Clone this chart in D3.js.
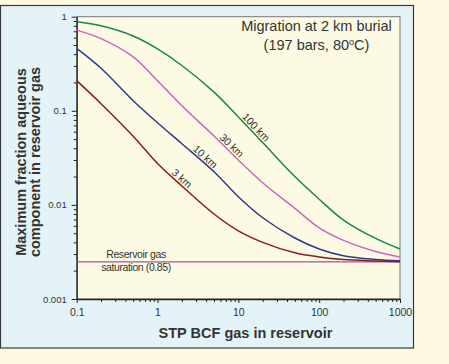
<!DOCTYPE html>
<html>
<head>
<meta charset="utf-8">
<script src="https://d3js.org/d3.v7.min.js"></script>
<style>
  body { margin: 0; background: #fdf9e3; }
  svg { display: block; font-family: "Liberation Sans", Arial, sans-serif; }
</style>
</head>
<body>
<div id="chart"></div>
<script>

var width = 449,
    height = 364;

// values
var gasBcf = [0.1, 0.2, 0.5, 1, 2, 5, 10, 20, 50, 100, 200, 500, 1000];
var km100 = [0.885, 0.80, 0.624, 0.455, 0.303, 0.158, 0.086, 0.046, 0.020, 0.0115, 0.0069, 0.0044, 0.0034];
var km30 = [0.72, 0.584, 0.374, 0.209, 0.113, 0.054, 0.030, 0.0172, 0.0092, 0.0057, 0.0042, 0.0032, 0.0028];
var km10 = [0.46, 0.283, 0.128, 0.0746, 0.0447, 0.0225, 0.0122, 0.0073, 0.00445, 0.0034, 0.00288, 0.00263, 0.00255];
var km3 = [0.209, 0.119, 0.0537, 0.0275, 0.0159, 0.0080, 0.0053, 0.0040, 0.0031, 0.0028, 0.00263, 0.00254, 0.00249];
var saturation = 0.00248;

var seriesNames = ["100 km", "30 km", "10 km", "3 km"];
var seriesColors = ["#128a4c", "#cf62c2", "#2d3a8e", "#8c1b1e"];
var labelAt = [14.7, 7.4, 3.5, 1.8];

var xTicks = [0.1, 1, 10, 100, 1000];
var yTicks = [0.001, 0.01, 0.1, 1];

var margin = {left: 76.7, right: 49, top: 16.7, bottom: 65};

var x = d3.scaleLog().domain([0.1, 1000]).range([margin.left, width - margin.right]);
var y = d3.scaleLog().domain([0.001, 1]).range([height - margin.bottom, margin.top]);

var svg = d3.select("#chart").append("svg")
  .attr("width", width)
  .attr("height", height);

// outer panel
svg.append("rect")
  .attr("x", 0.5).attr("y", 5.5)
  .attr("width", 413).attr("height", 342.5)
  .attr("fill", "#e4f3f7")
  .attr("stroke", "#3a3a3a")
  .attr("stroke-width", 1.2);

// plot area
svg.append("rect")
  .attr("x", x.range()[0]).attr("y", y.range()[1])
  .attr("width", x.range()[1] - x.range()[0])
  .attr("height", y.range()[0] - y.range()[1])
  .attr("fill", "#fdfae3")
  .attr("stroke", "#777")
  .attr("stroke-width", 1);

function minorTicks(lo, hi) {
  var out = [];
  for (var p = lo; p < hi; p++) {
    for (var k = 2; k <= 9; k++) out.push(k * Math.pow(10, p));
  }
  return out;
}

// minor ticks
svg.append("g")
  .attr("transform", "translate(0," + y.range()[0] + ")")
  .call(d3.axisBottom(x).tickValues(minorTicks(-1, 3)).tickSize(3).tickFormat(""))
  .call(function(g) { g.select(".domain").remove(); });
svg.append("g")
  .attr("transform", "translate(" + x.range()[0] + ",0)")
  .call(d3.axisLeft(y).tickValues(minorTicks(-3, 0)).tickSize(3).tickFormat(""))
  .call(function(g) { g.select(".domain").remove(); });

// major axes
var xAxis = svg.append("g")
  .attr("transform", "translate(0," + y.range()[0] + ")")
  .call(d3.axisBottom(x).tickValues(xTicks).tickSize(4).tickSizeOuter(0).tickPadding(6)
    .tickFormat(function(d) { return String(d); }));
xAxis.selectAll("text").attr("font-size", "10.5px").attr("fill", "#333").attr("font-family", null);

var yAxis = svg.append("g")
  .attr("transform", "translate(" + x.range()[0] + ",0)")
  .call(d3.axisLeft(y).tickValues(yTicks).tickSize(5).tickSizeOuter(0).tickPadding(5)
    .tickFormat(function(d) { return String(d); }));
yAxis.selectAll("text").attr("font-size", "9.5px").attr("fill", "#333").attr("font-family", null);

svg.selectAll(".domain").attr("stroke", "#222").attr("stroke-width", 1.3);
svg.selectAll(".tick line").attr("stroke", "#222");

// saturation line
svg.append("line")
  .attr("x1", x.range()[0]).attr("x2", x.range()[1])
  .attr("y1", y(saturation)).attr("y2", y(saturation))
  .attr("stroke", "#a0559e")
  .attr("stroke-width", 1.4);

var line = d3.line()
  .x(function(d) { return x(d[0]); })
  .y(function(d) { return y(d[1]); })
  .curve(d3.curveCatmullRom.alpha(0.5));

var allSeries = [km100, km30, km10, km3];

allSeries.forEach(function(vals, i) {
  var pts = gasBcf.map(function(g, j) { return [g, vals[j]]; });
  svg.append("path")
    .datum(pts)
    .attr("d", line)
    .attr("fill", "none")
    .attr("stroke", seriesColors[i])
    .attr("stroke-width", 1.5);

  // curve label, sitting on the line
  var lx = Math.log10(labelAt[i]);
  var ly = d3.scaleLinear()
    .domain(gasBcf.map(function(g) { return Math.log10(g); }))
    .range(vals.map(function(v) { return Math.log10(v); }));
  var px = x(labelAt[i]),
      py = y(Math.pow(10, ly(lx)));
  var p1 = [x(Math.pow(10, lx - 0.25)), y(Math.pow(10, ly(lx - 0.25)))],
      p2 = [x(Math.pow(10, lx + 0.25)), y(Math.pow(10, ly(lx + 0.25)))];
  var ang = Math.atan2(p2[1] - p1[1], p2[0] - p1[0]) * 180 / Math.PI;
  svg.append("text")
    .attr("transform", "translate(" + px + "," + py + ") rotate(" + ang + ")")
    .attr("dy", -2)
    .attr("text-anchor", "middle")
    .attr("font-size", "10.5px")
    .attr("fill", "#333")
    .text(seriesNames[i]);
});

// saturation label
svg.append("text")
  .attr("x", 136).attr("y", y(saturation) - 4)
  .attr("text-anchor", "middle")
  .attr("font-size", "10.5px")
  .attr("letter-spacing", "-0.4")
  .attr("fill", "#333")
  .text("Reservoir gas");
svg.append("text")
  .attr("x", 136).attr("y", y(saturation) + 9)
  .attr("text-anchor", "middle")
  .attr("font-size", "10.5px")
  .attr("letter-spacing", "-0.4")
  .attr("fill", "#333")
  .text("saturation (0.85)");

// annotation
svg.append("text")
  .attr("x", 316.5).attr("y", 31)
  .attr("text-anchor", "middle")
  .attr("font-size", "14.5px")
  .attr("fill", "#333")
  .text("Migration at 2 km burial");
var t2 = svg.append("text")
  .attr("x", 316.5).attr("y", 50)
  .attr("text-anchor", "middle")
  .attr("font-size", "14.5px")
  .attr("fill", "#333");
t2.append("tspan").text("(197 bars, 80");
t2.append("tspan").attr("font-size", "9px").attr("dy", -5).text("o");
t2.append("tspan").attr("dy", 5).text("C)");

// axis titles
svg.append("text")
  .attr("x", 245.5).attr("y", 338)
  .attr("text-anchor", "middle")
  .attr("font-size", "14.5px")
  .attr("font-weight", "bold")
  .attr("fill", "#333")
  .text("STP BCF gas in reservoir");

var yt = svg.append("text")
  .attr("transform", "translate(26,162) rotate(-90)")
  .attr("text-anchor", "middle")
  .attr("font-size", "14.5px")
  .attr("font-weight", "bold")
  .attr("fill", "#333");
yt.append("tspan").attr("x", 0).attr("dy", 0).text("Maximum fraction aqueous");
yt.append("tspan").attr("x", 0).attr("dy", 14).text("component in reservoir gas");

</script>
</body>
</html>
